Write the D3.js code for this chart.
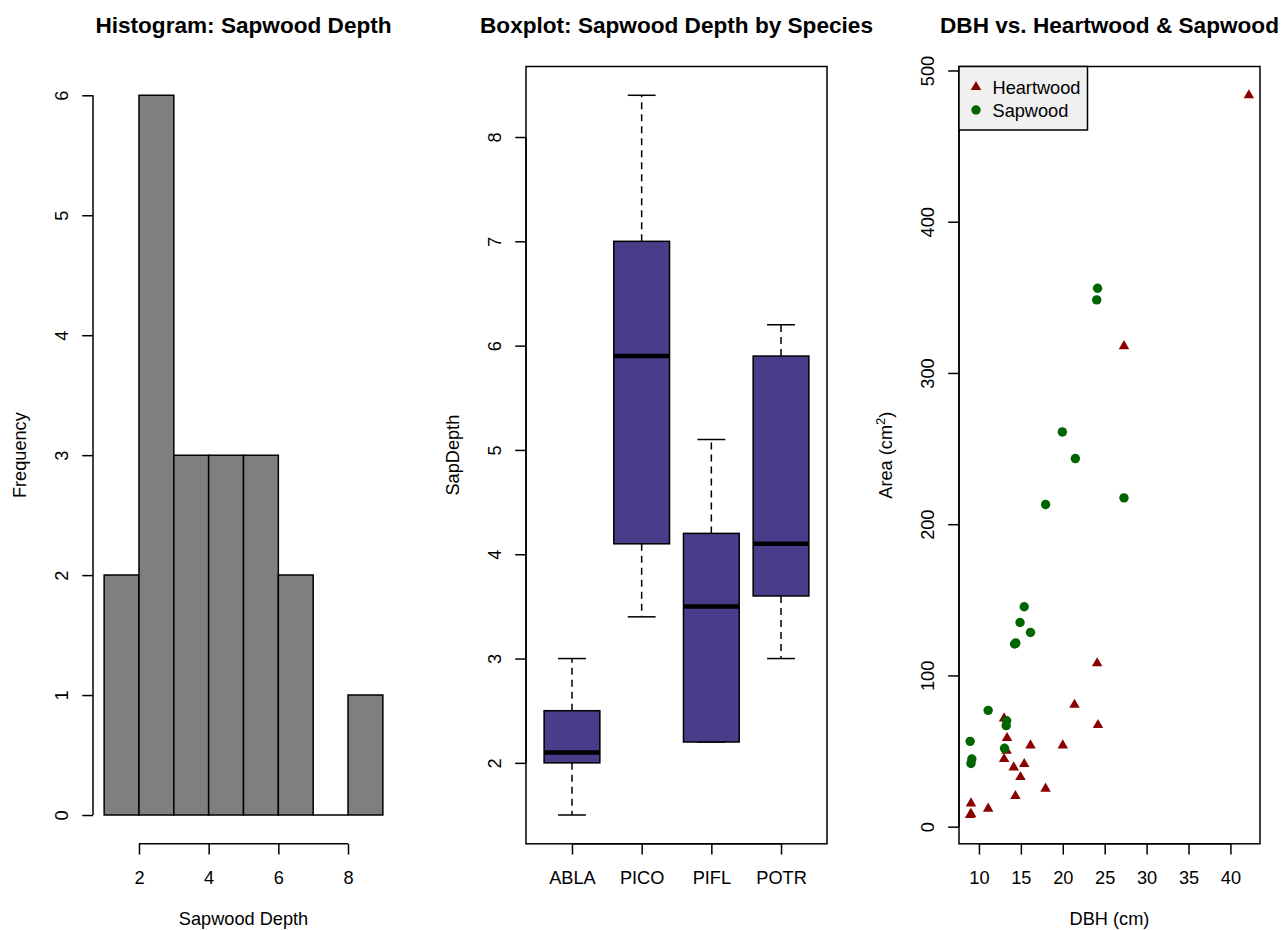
<!DOCTYPE html>
<html><head><meta charset="utf-8">
<script src="https://cdn.jsdelivr.net/npm/d3@7"></script>
<style>body{margin:0;background:#fff} text{font-family:"Liberation Sans",Arial,Helvetica,sans-serif;fill:#000}</style>
</head><body><svg id="c" width="1288" height="930"></svg>
<script>
// ---------- data ----------
const histBreaks = [1,2,3,4,5,6,7,8,9];
const histCounts = [2,6,3,3,3,2,0,1];
const histXTicks = [2,4,6,8];
const histYTicks = [0,1,2,3,4,5,6];

const species = ["ABLA","PICO","PIFL","POTR"];
const whiskerLow  = [1.5,3.4,2.2,3.0];
const q1          = [2.0,4.1,2.2,3.6];
const medians     = [2.1,5.9,3.5,4.1];
const q3          = [2.5,7.0,4.2,5.9];
const whiskerHigh = [3.0,8.4,5.1,6.2];
const boxYTicks = [2,3,4,5,6,7,8];

const heartDBH  = [24.1,21.4,24.2,13.0,13.35,16.15,20.0,13.3,13.0,14.15,15.4,14.95,17.95,14.35,9.05,11.1,9.05,8.95,27.3,42.2];
const heartArea = [108,80.6,67.2,71.6,58.6,53.7,53.7,50.2,44.7,39.2,41.4,32.8,25.1,20.3,15.4,11.9,8.4,7.7,317.7,483.6];
const sapDBH  = [15.4,14.9,16.15,14.25,14.4,11.1,13.3,13.25,8.95,9.15,9.05,13.05,24.15,24.05,19.95,21.5,17.95,27.3];
const sapArea = [145.4,135,128.4,120.8,121.4,76.9,70,66.8,56.4,44.7,41.8,51.8,356,348.3,261,243.4,213,217.4];
const scatXTicks = [10,15,20,25,30,35,40];
const scatYTicks = [0,100,200,300,400,500];

const titles = ["Histogram: Sapwood Depth","Boxplot: Sapwood Depth by Species","DBH vs. Heartwood & Sapwood"];

// ---------- layout ----------
const svg = d3.select("#c");
svg.append("rect").attr("width",1288).attr("height",930).attr("fill","#fff");
const lefts = [93,526,959], W = 301, TOP = 66.5, BOT = 843.8;
const FS = 18.2, LW = 1.5, TICK = 10.8;
const ext = (lo,hi) => [lo-0.04*(hi-lo), hi+0.04*(hi-lo)];

function bottomAxis(scale, ticks, labels, title, cx){
  const a = d3.axisBottom(scale).tickValues(ticks).tickSize(TICK).tickPadding(16.2)
    .tickFormat((d,i)=> labels ? labels[i] : String(d));
  const g = svg.append("g").attr("transform",`translate(0,${BOT})`).call(a)
    .attr("font-size",FS).attr("color","#000");
  g.select(".domain").remove();
  g.selectAll(".tick line").attr("stroke-width",LW);
  g.append("line").attr("x1",scale(ticks[0])).attr("x2",scale(ticks[ticks.length-1]))
    .attr("stroke","#000").attr("stroke-width",LW);
  svg.append("text").attr("x",cx).attr("y",925).attr("text-anchor","middle")
    .attr("font-size",FS).text(title);
}
function leftAxis(scale, ticks, x0){
  const a = d3.axisLeft(scale).tickValues(ticks).tickSize(TICK).tickFormat(d=>String(d));
  const g = svg.append("g").attr("transform",`translate(${x0},0)`).call(a)
    .attr("font-size",FS).attr("color","#000");
  g.select(".domain").remove();
  g.selectAll(".tick line").attr("stroke-width",LW);
  g.selectAll(".tick text").attr("x",null).attr("dy",null)
    .attr("text-anchor","middle").attr("transform","translate(-25,0) rotate(-90)");
  g.append("line").attr("y1",scale(ticks[0])).attr("y2",scale(ticks[ticks.length-1]))
    .attr("stroke","#000").attr("stroke-width",LW);
  return g;
}
function yTitle(x0, label){
  return svg.append("text").attr("text-anchor","middle").attr("font-size",FS)
    .attr("transform",`translate(${x0-67},${(TOP+BOT)/2}) rotate(-90)`).text(label);
}
titles.forEach((t,i)=>{
  svg.append("text").attr("x",lefts[i]+W/2).attr("y",32.5).attr("text-anchor","middle")
    .attr("font-size",22.6).attr("font-weight","bold").text(t);
});

// ---------- panel 1: histogram ----------
{
  const L = lefts[0];
  const x = d3.scaleLinear().domain(ext(histBreaks[0], histBreaks[histBreaks.length-1])).range([L, L+W]);
  const y = d3.scaleLinear().domain(ext(0, d3.max(histCounts))).range([BOT, TOP]);
  svg.append("g").selectAll("path").data(histCounts).join("path")
    .attr("d",(d,i)=>{
      const x0=x(histBreaks[i]), x1=x(histBreaks[i+1]), y0=y(0), y1=y(d);
      return `M${x0},${y0}L${x0},${y1}L${x1},${y1}L${x1},${y0}Z`;
    })
    .attr("fill","#7F7F7F").attr("stroke","#000").attr("stroke-width",LW);
  bottomAxis(x, histXTicks, null, "Sapwood Depth", L+W/2);
  leftAxis(y, histYTicks, L);
  yTitle(L, "Frequency");
}

// ---------- panel 2: boxplot ----------
{
  const L = lefts[1];
  const x = d3.scaleLinear().domain(ext(0.5, species.length+0.5)).range([L, L+W]);
  const y = d3.scaleLinear().domain(ext(d3.min(whiskerLow), d3.max(whiskerHigh))).range([BOT, TOP]);
  const g = svg.append("g");
  species.forEach((s,i)=>{
    const c = i+1;
    [[q3[i],whiskerHigh[i]],[q1[i],whiskerLow[i]]].forEach(([a,b])=>{
      g.append("line").attr("x1",x(c)).attr("x2",x(c)).attr("y1",y(a)).attr("y2",y(b))
        .attr("stroke","#000").attr("stroke-width",LW).attr("stroke-dasharray","7,5");
      g.append("line").attr("x1",x(c-0.2)).attr("x2",x(c+0.2)).attr("y1",y(b)).attr("y2",y(b))
        .attr("stroke","#000").attr("stroke-width",LW);
    });
    g.append("rect").attr("x",x(c-0.4)).attr("width",x(c+0.4)-x(c-0.4))
      .attr("y",y(q3[i])).attr("height",y(q1[i])-y(q3[i]))
      .attr("fill","#483D8B").attr("stroke","#000").attr("stroke-width",LW);
    g.append("line").attr("x1",x(c-0.4)).attr("x2",x(c+0.4)).attr("y1",y(medians[i])).attr("y2",y(medians[i]))
      .attr("stroke","#000").attr("stroke-width",4.5);
  });
  svg.append("rect").attr("x",L).attr("y",TOP).attr("width",W).attr("height",BOT-TOP)
    .attr("fill","none").attr("stroke","#000").attr("stroke-width",LW);
  bottomAxis(x, species.map((d,i)=>i+1), species, "", L+W/2);
  leftAxis(y, boxYTicks, L);
  yTitle(L, "SapDepth");
}

// ---------- panel 3: scatter ----------
{
  const L = lefts[2];
  const allX = heartDBH.concat(sapDBH), allY = heartArea.concat(sapArea);
  const x = d3.scaleLinear().domain(ext(d3.min(allX), d3.max(allX))).range([L, L+W]);
  const y = d3.scaleLinear().domain(ext(d3.min(allY), d3.max(allY))).range([BOT, TOP]);
  const tri = d3.symbol().type(d3.symbolTriangle).size(48);
  svg.append("g").selectAll("path").data(heartDBH).join("path")
    .attr("d",tri).attr("transform",(d,i)=>`translate(${x(d)},${y(heartArea[i])})`)
    .attr("fill","#8B0000");
  svg.append("g").selectAll("circle").data(sapDBH).join("circle")
    .attr("cx",d=>x(d)).attr("cy",(d,i)=>y(sapArea[i])).attr("r",4.7)
    .attr("fill","#006400");
  svg.append("rect").attr("x",L).attr("y",TOP).attr("width",W).attr("height",BOT-TOP)
    .attr("fill","none").attr("stroke","#000").attr("stroke-width",LW);
  bottomAxis(x, scatXTicks, null, "DBH (cm)", L+W/2);
  leftAxis(y, scatYTicks, L);
  const t = yTitle(L, "");
  t.append("tspan").text("Area (cm");
  t.append("tspan").attr("dy",-7).attr("font-size",13).text("2");
  t.append("tspan").attr("dy",7).text(")");
  // legend
  const lg = svg.append("g");
  lg.append("rect").attr("x",L).attr("y",TOP).attr("width",128.5).attr("height",63.5)
    .attr("fill","#F0F0F0").attr("stroke","#000").attr("stroke-width",LW);
  lg.append("path").attr("d",tri).attr("transform",`translate(${L+17},${TOP+20.5})`).attr("fill","#8B0000");
  lg.append("circle").attr("cx",L+17).attr("cy",TOP+43.5).attr("r",4.7).attr("fill","#006400");
  lg.append("text").attr("x",L+33.5).attr("y",TOP+27).attr("font-size",FS).text("Heartwood");
  lg.append("text").attr("x",L+33.5).attr("y",TOP+50).attr("font-size",FS).text("Sapwood");
}
</script></body></html>
